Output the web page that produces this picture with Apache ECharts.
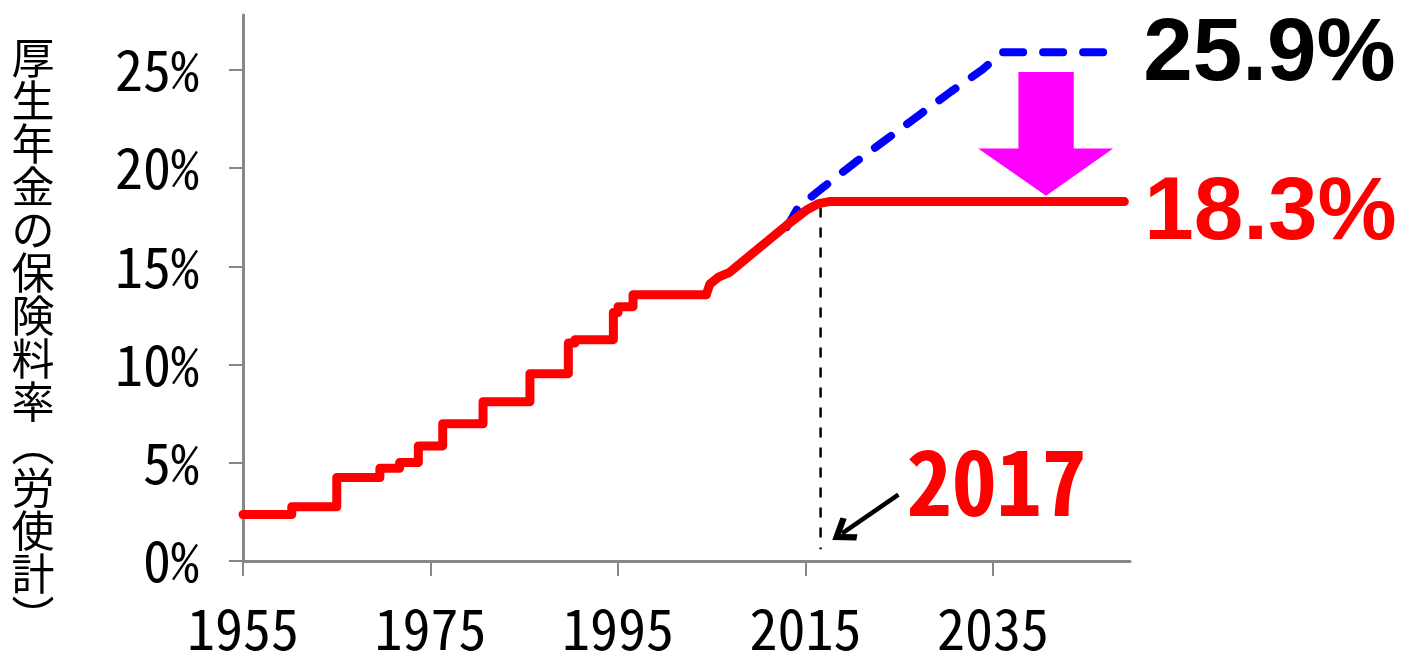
<!DOCTYPE html>
<html><head><meta charset="utf-8">
<script src="https://cdn.jsdelivr.net/npm/echarts@6/dist/echarts.min.js"></script>
<style>html,body{margin:0;padding:0;background:#fff}#c{width:1407px;height:657px}</style>
</head><body><div id="c"></div>
<script>
// ---- data ----
const yAxisTitle = '厚生年金の保険料率（労使計）';
const xTickYears = [1955, 1975, 1995, 2015, 2035];
const yTickValues = [0, 5, 10, 15, 20, 25];

// historical stepwise rate (year of change, new rate %)
const stepYears = [1955, 1960.2, 1965.0, 1969.6, 1971.7, 1973.7, 1976.3, 1980.6, 1985.6, 1989.7, 1990.4, 1994.5, 1995.0, 1996.6, 2004.4];
const stepRates = [2.37, 2.76, 4.25, 4.72, 5.01, 5.86, 6.99, 8.11, 9.54, 11.1, 11.27, 12.65, 12.95, 13.56, 13.56];

// gradual increase after the 2004 reform, fixed at 18.3%
const rampYears = [2004.4, 2004.8, 2005.7, 2006.9, 2013.0, 2015.2, 2016.4, 2017.5, 2049.0];
const rampRates = [13.56, 14.1, 14.45, 14.7, 17.1, 17.9, 18.2, 18.3, 18.3];

// previous plan (blue dashed), up to 25.9%
const oldPlanYears = [2013.0, 2014.2, 2016.8, 2020.3, 2023.7, 2027.1, 2030.5, 2033.8, 2036.0, 2047.5];
const oldPlanRates = [17.0, 18.0, 19.0, 20.3, 21.5, 22.7, 23.9, 25.0, 25.9, 25.9];

const finalRateLabel = '18.3%';
const oldRateLabel = '25.9%';
const cutoffLabel = '2017';
const cutoffYears = [2016.6, 2016.6];
const cutoffRates = [18.0, 0.6];
const pointerYears = [2024.9, 2018.9];
const pointerRates = [3.38, 1.41];
const cutoffLabelAt = [2035.4, 4.03];

// magenta down-arrow outline (year, rate)
const pinkArrowYears = [2037.7, 2043.6, 2043.6, 2047.8, 2040.65, 2033.4, 2037.7];
const pinkArrowRates = [24.9, 24.9, 21.0, 21.0, 18.6, 21.0, 21.0];

// ---- chart ----
const zip = (xs, ys) => xs.map((x, i) => [x, ys[i]]);
const narrow = "'Noto Sans Mono CJK JP', 'Noto Sans Mono CJK SC', 'DejaVu Sans Condensed', sans-serif";
const axisGray = '#878787';
const verticalTitle = Array.from(yAxisTitle).map(ch => ch === '（' ? '︵' : ch === '）' ? '︶' : ch).join('\n');
const chevron = 'path://M50,0 L100,62 L84,76 L50,34 L16,76 L0,62 Z';

const chart = echarts.init(document.getElementById('c'), null, {renderer: 'canvas'});
chart.setOption({
  animation: false,
  backgroundColor: '#ffffff',
  grid: {left: 243, right: 277, top: 15, bottom: 90, containLabel: false},
  xAxis: {
    type: 'value', min: 1955, max: 2049.6,
    splitLine: {show: false},
    axisLine: {show: true, onZero: false, lineStyle: {color: axisGray, width: 3}},
    axisTick: {show: true, length: 15, customValues: xTickYears, lineStyle: {color: axisGray, width: 2}},
    axisLabel: {customValues: xTickYears, formatter: v => String(v), fontFamily: narrow, fontSize: 56, color: '#000', margin: 40}
  },
  yAxis: {
    type: 'value', min: 0, max: 27.8,
    splitLine: {show: false},
    axisLine: {show: true, onZero: false, lineStyle: {color: axisGray, width: 3}},
    axisTick: {show: true, length: 14, customValues: yTickValues, lineStyle: {color: axisGray, width: 2}},
    axisLabel: {customValues: yTickValues, formatter: v => v + '%', fontFamily: narrow, fontSize: 56, color: '#000', margin: 44}
  },
  graphic: [{
    type: 'text', x: 33, y: 36, silent: true,
    style: {text: verticalTitle, fontFamily: "'Noto Sans CJK JP', sans-serif", fontSize: 43, lineHeight: 43,
      align: 'center', verticalAlign: 'top', fill: '#000'}
  }],
  series: [
    {
      name: 'cutoff', type: 'line', z: 1, silent: true, showSymbol: false, symbol: 'none',
      data: zip(cutoffYears, cutoffRates),
      lineStyle: {color: '#000', width: 2.5, type: [10, 10]},
      markLine: {
        silent: true, symbol: ['none', chevron], symbolSize: [28, 24],
        lineStyle: {color: '#000', width: 4.5, type: 'solid'},
        itemStyle: {color: '#000'},
        label: {show: false},
        data: [[{coord: [pointerYears[0], pointerRates[0]]}, {coord: [pointerYears[1], pointerRates[1]]}]]
      },
      markPoint: {
        silent: true, symbol: 'rect', symbolSize: 1, itemStyle: {color: 'rgba(0,0,0,0)'},
        label: {show: true, position: 'inside', formatter: cutoffLabel, color: '#FF0000',
          fontFamily: narrow, fontWeight: 'bold', fontSize: 90},
        data: [{coord: cutoffLabelAt}]
      }
    },
    {
      name: 'old', type: 'line', z: 2, silent: true, showSymbol: false, symbol: 'none',
      data: zip(oldPlanYears, oldPlanRates),
      lineStyle: {color: '#0000FF', width: 8, type: [20, 20], cap: 'round', join: 'round'},
      endLabel: {show: true, formatter: oldRateLabel, color: '#000', fontFamily: "'Liberation Sans', Arial, sans-serif",
        fontWeight: 'bold', fontSize: 89, distance: 33, offset: [0, 3]}
    },
    {
      name: 'steps', type: 'line', z: 3, silent: true, showSymbol: false, symbol: 'none', step: 'end',
      data: zip(stepYears, stepRates),
      lineStyle: {color: '#FF0000', width: 9, cap: 'round', join: 'round'}
    },
    {
      name: 'ramp', type: 'line', z: 3, silent: true, showSymbol: false, symbol: 'none',
      data: zip(rampYears, rampRates),
      lineStyle: {color: '#FF0000', width: 9, cap: 'round', join: 'round'},
      endLabel: {show: true, formatter: finalRateLabel, color: '#FF0000', fontFamily: "'Liberation Sans', Arial, sans-serif",
        fontWeight: 'bold', fontSize: 89, distance: 20, offset: [0, 13]}
    },
    {
      name: 'arrow', type: 'custom', z: 4, silent: true,
      data: [[pinkArrowYears[0], pinkArrowRates[0]]],
      renderItem: (params, api) => ({
        type: 'polygon',
        shape: {points: pinkArrowYears.map((x, i) => api.coord([x, pinkArrowRates[i]]))},
        style: {fill: '#FF00FF'}
      })
    }
  ]
});
</script>
</body></html>
